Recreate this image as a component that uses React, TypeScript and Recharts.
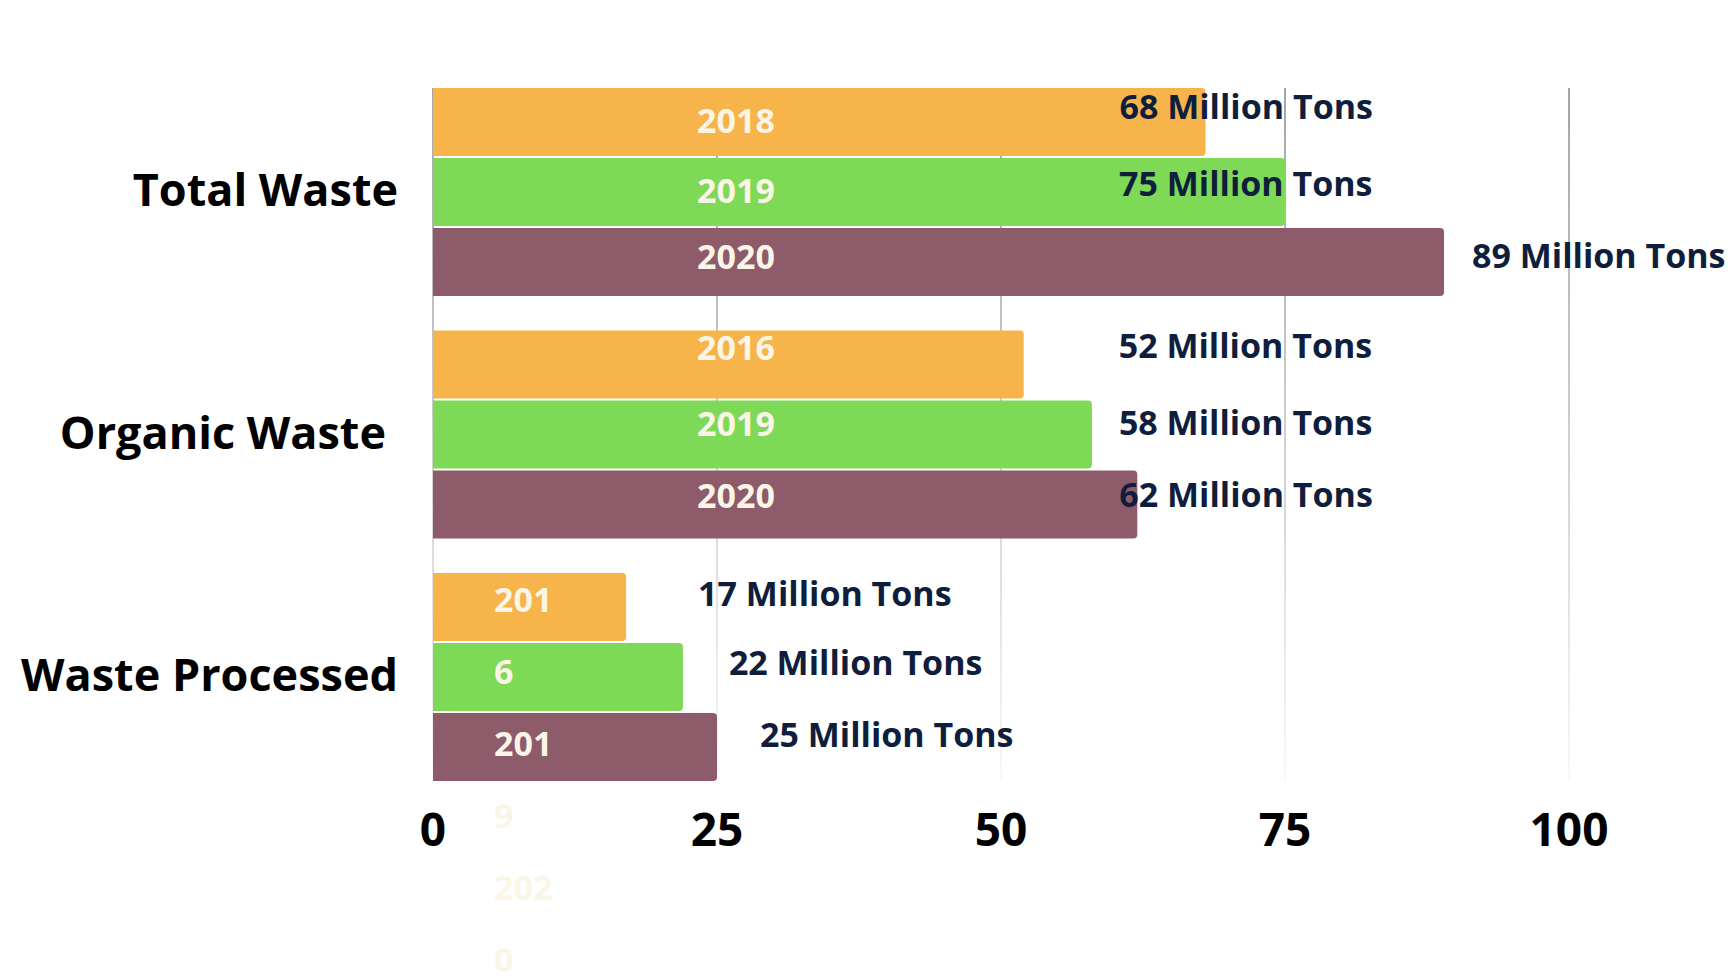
import { BarChart, Bar, XAxis, YAxis, CartesianGrid, LabelList } from "recharts";

const categories = ["Total Waste", "Organic Waste", "Waste Processed"];
const firstValues = [68, 52, 17];
const secondValues = [75, 58, 22];
const thirdValues = [89, 62, 25];
const firstYears = ["2018", "2016", "2016"];
const secondYears = ["2019", "2019", "2019"];
const thirdYears = ["2020", "2020", "2020"];
const xTicks = [0, 25, 50, 75, 100];
const unitText = "Million Tons";

const data = categories.map((name, i) => ({
  name,
  first: firstValues[i],
  second: secondValues[i],
  third: thirdValues[i],
  firstYear: firstYears[i],
  secondYear: secondYears[i],
  thirdYear: thirdYears[i],
}));

const FONT = "'Open Sans', 'Noto Sans', sans-serif";
const CREAM = "#faf5e6";
const NAVY = "#0f1e3c";
const BAR_SIZE = 68;
const BAR_GAP = 2;
const LABEL_PX = 34;

// hand placed text boxes in the original slide: [dx from bar end, dy from bar centre]
const valueNudge = [
  [[-86, -15], [-166, -8], [28, -6]],
  [[95, -19], [27, -12], [-18, -10]],
  [[72, -13], [46, -14], [43, -12]],
];
const yearNudge = [[-1, -1, -5], [-17, -11, -9], [-7, -7, -7]];
// right edge of each category label, measured from the plot's left edge
const categoryDx = [-35, -47, -35];

const makeValueLabel = (series: number) => (props: any) => {
  const { x, y, width, height, value, index } = props;
  const [dx, dy] = valueNudge[index][series];
  return (
    <text
      x={x + width + dx}
      y={y + height / 2 + dy + LABEL_PX * 0.357}
      fill={NAVY}
      fontFamily={FONT}
      fontWeight={700}
      fontSize={LABEL_PX}
    >
      {`${value} ${unitText}`}
    </text>
  );
};

const makeYearLabel = (series: number) => (props: any) => {
  const { x, y, width, height, value, index } = props;
  const text = String(value);
  if (width > 400) {
    return (
      <text
        x={x + 303}
        y={y + height / 2 + yearNudge[index][series] + LABEL_PX * 0.357}
        textAnchor="middle"
        fill={CREAM}
        fontFamily={FONT}
        fontWeight={700}
        fontSize={LABEL_PX}
      >
        {text}
      </text>
    );
  }
  // narrow bars: the text box wraps after 3 characters and the boxes stack down
  const lines = [text.slice(0, 3), text.slice(3)];
  const firstCentre = y + height / 2 - series * (BAR_SIZE + BAR_GAP);
  const lineH = 72;
  return (
    <g>
      {lines.map((ln, k) => (
        <text
          key={k}
          x={x + 61}
          y={firstCentre + yearNudge[index][series] + (series * 2 + k) * lineH + LABEL_PX * 0.357}
          fill={CREAM}
          fontFamily={FONT}
          fontWeight={700}
          fontSize={LABEL_PX}
        >
          {ln}
        </text>
      ))}
    </g>
  );
};

const CategoryTick = (props: any) => {
  const { x, y, payload, index } = props;
  return (
    <text
      x={x + (categoryDx[index] ?? -35)}
      y={y - 2 + 45 * 0.357}
      textAnchor="end"
      fill="#000"
      fontFamily={FONT}
      fontWeight={700}
      fontSize={45}
    >
      {payload.value}
    </text>
  );
};

const NumberTick = (props: any) => {
  const { x, y, payload } = props;
  return (
    <text x={x} y={y + 47} textAnchor="middle" fill="#000" fontFamily={FONT} fontWeight={700} fontSize={46}>
      {payload.value}
    </text>
  );
};

export default function App() {
  return (
    <div style={{ position: "absolute", left: 0, top: 0, width: 1730, height: 978, background: "#fff" }}>
      <BarChart
        width={1730}
        height={978}
        data={data}
        layout="vertical"
        margin={{ top: 71, right: 161, bottom: 119.5, left: 33 }}
        barSize={BAR_SIZE}
        barGap={BAR_GAP}
      >
        <defs>
          <linearGradient id="gridFade" gradientUnits="userSpaceOnUse" x1="0" y1="88" x2="0" y2="780">
            <stop offset="0%" stopColor="#4a4a4a" />
            <stop offset="100%" stopColor="#f2f2f2" />
          </linearGradient>
        </defs>
        <CartesianGrid horizontal={false} stroke="url(#gridFade)" y={88} height={692} />
        <XAxis
          type="number"
          domain={[0, 100]}
          ticks={xTicks}
          axisLine={false}
          tickLine={false}
          tickSize={0}
          tickMargin={0}
          height={60}
          tick={<NumberTick />}
        />
        <YAxis
          type="category"
          dataKey="name"
          width={400}
          axisLine={false}
          tickLine={false}
          tickSize={0}
          tickMargin={0}
          tick={<CategoryTick />}
        />
        <Bar dataKey="first" fill="#f6b44b" radius={[0, 4, 4, 0]} isAnimationActive={false}>
          <LabelList dataKey="firstYear" content={makeYearLabel(0)} />
          <LabelList dataKey="first" content={makeValueLabel(0)} />
        </Bar>
        <Bar dataKey="second" fill="#7ed957" radius={[0, 4, 4, 0]} isAnimationActive={false}>
          <LabelList dataKey="secondYear" content={makeYearLabel(1)} />
          <LabelList dataKey="second" content={makeValueLabel(1)} />
        </Bar>
        <Bar dataKey="third" fill="#8e5b6b" radius={[0, 4, 4, 0]} isAnimationActive={false}>
          <LabelList dataKey="thirdYear" content={makeYearLabel(2)} />
          <LabelList dataKey="third" content={makeValueLabel(2)} />
        </Bar>
      </BarChart>
    </div>
  );
}
